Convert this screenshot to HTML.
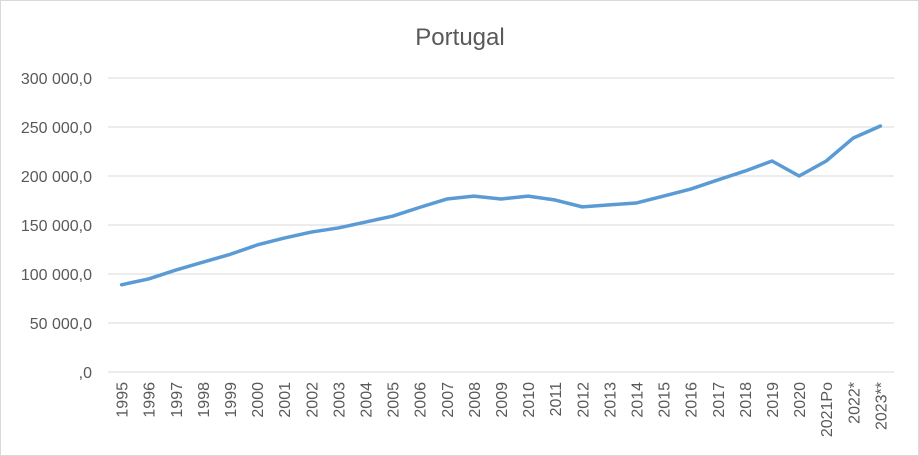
<!DOCTYPE html>
<html><head><meta charset="utf-8"><style>
html,body{margin:0;padding:0;background:#fff;}
svg{display:block;font-family:"Liberation Sans",sans-serif;}
</style></head><body>
<svg id="chart" width="919" height="456">
<rect x="0.5" y="0.5" width="918" height="455" fill="#fff" stroke="#d9d9d9"/>
<text x="460" y="45" text-anchor="middle" font-size="24" fill="#595959">Portugal</text>
<g id="grid"></g><g id="yl"></g><g id="xl"></g><g id="series"></g>
</svg>
<script>
const categories=["1995","1996","1997","1998","1999","2000","2001","2002","2003","2004","2005","2006","2007","2008","2009","2010","2011","2012","2013","2014","2015","2016","2017","2018","2019","2020","2021Po","2022*","2023**"];
const values=[89000,95000,104000,112000,120000,129600,136700,142800,147000,153000,159000,168000,176500,179500,176500,179500,175500,168500,170500,172500,179500,186700,196000,205000,215300,200000,215300,238800,251000];
const yTicks=[0,50000,100000,150000,200000,250000,300000];
const yTickLabels=[",0","50 000,0","100 000,0","150 000,0","200 000,0","250 000,0","300 000,0"];
const NS="http://www.w3.org/2000/svg";
const x0=108,x1=894,yTop=78,yBot=372,yMax=300000;
const step=(x1-x0)/categories.length;
const xS=i=>x0+step*(i+0.5);
const yS=v=>yBot-v/yMax*(yBot-yTop);
function mk(t,a,p){const e=document.createElementNS(NS,t);for(const k in a)e.setAttribute(k,a[k]);p.appendChild(e);return e;}
const g=document.getElementById('grid'),yl=document.getElementById('yl'),xl=document.getElementById('xl'),s=document.getElementById('series');
yTicks.forEach((v,i)=>{
 const l=mk('line',{x1:x0,x2:x1,y1:yS(v),y2:yS(v),stroke:'#d9d9d9','stroke-width':1},g);
 
 
 const t=mk('text',{x:92,y:yS(v)+6,'text-anchor':'end','font-size':16,fill:'#595959'},yl);
 t.textContent=yTickLabels[i];
 
 
});
categories.forEach((c,i)=>{
 const x=xS(i);
 const t=mk('text',{x:0,y:0,'text-anchor':'end','font-size':16,fill:'#595959',transform:`translate(${x+6},382) rotate(-90)`},xl);
 t.textContent=c;
 
 
});
const p=mk('polyline',{points:values.map((v,i)=>xS(i)+','+yS(v)).join(' '),fill:'none',stroke:'#5b9bd5','stroke-width':3.5,'stroke-linejoin':'round','stroke-linecap':'round'},s);


</script>
</body></html>
